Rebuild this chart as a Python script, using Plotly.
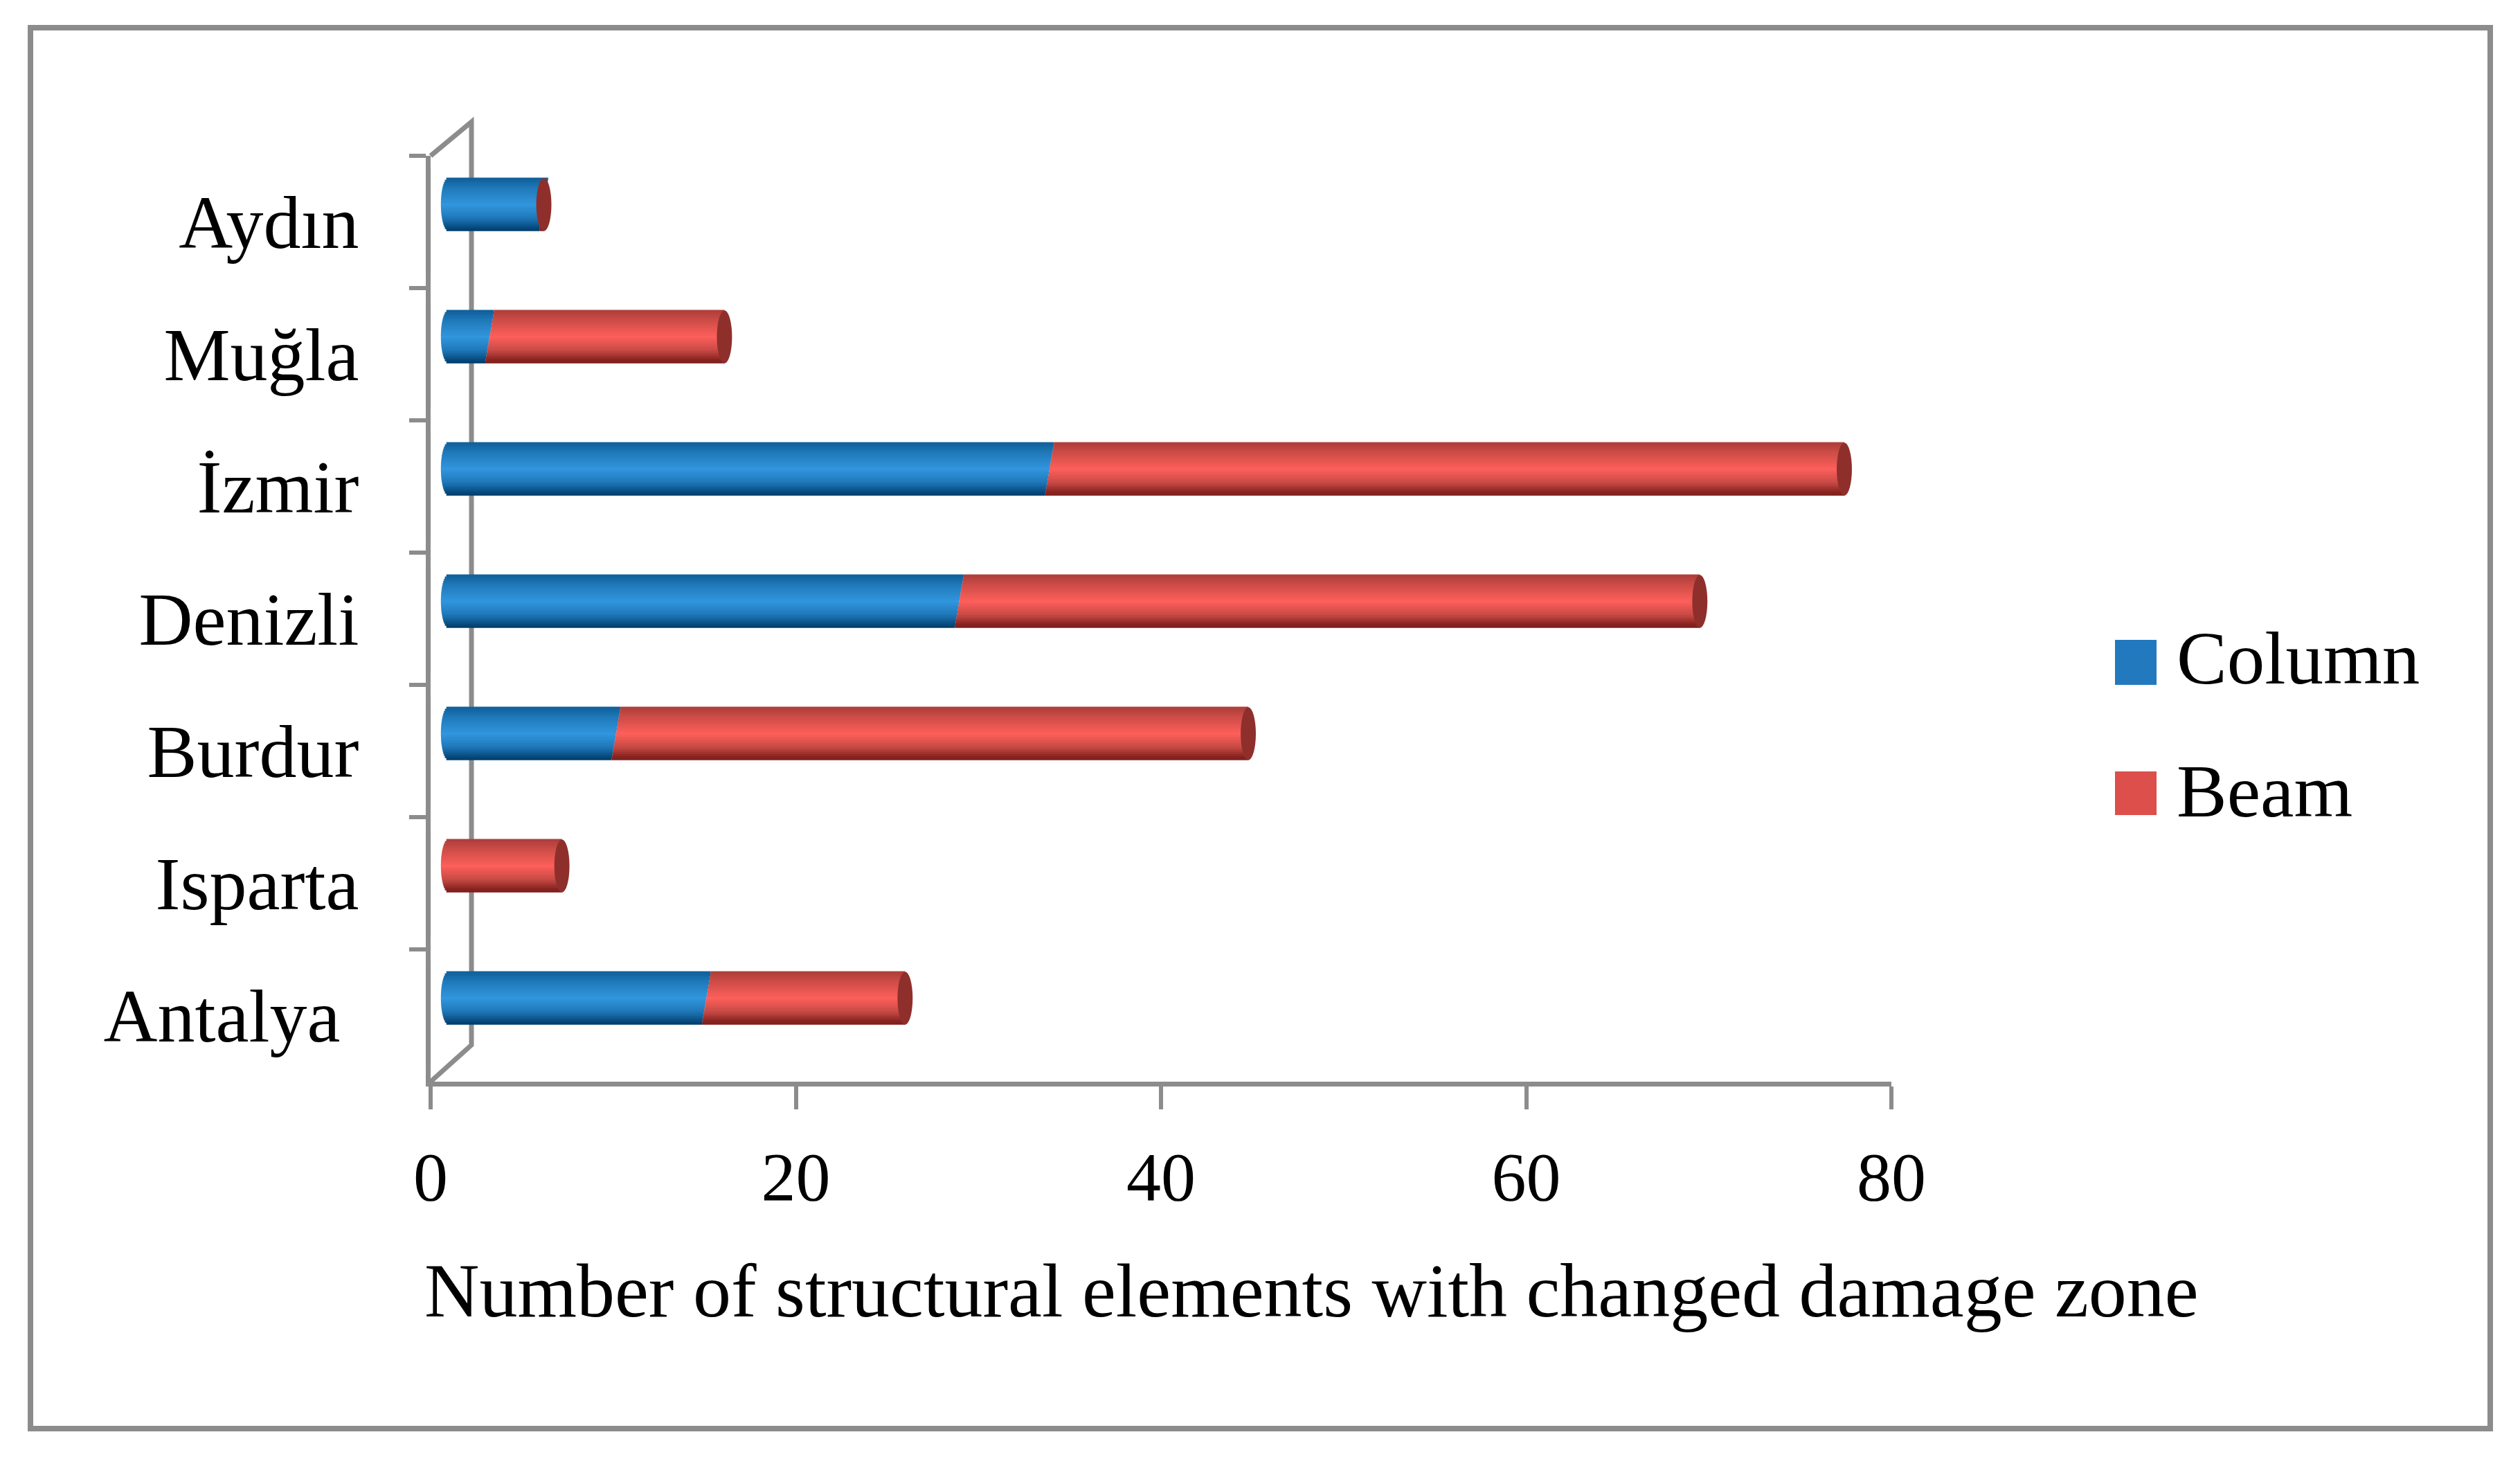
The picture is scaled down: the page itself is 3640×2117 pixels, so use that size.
import math
import plotly.graph_objects as go

categories = ["Antalya\u00a0", "Isparta", "Burdur", "Denizli", "İzmir", "Muğla", "Aydın"]
column_values = [15, 0, 10, 29, 34, 3, 6]
beam_values = [11, 7, 35, 41, 44, 13, 0]
x_ticks = [0, 20, 40, 60, 80]
series_names = ["Column", "Beam"]
x_title = "Number of structural elements with changed damage zone"

W, H = 3640, 2117
FONT = "Liberation Serif"
GREY = "#8c8c8c"


def px(v):
    return v / W


def py(v):
    return 1 - v / H


X0, X1, Y_TOP, Y_BOT = 622, 2732, 225, 1562
BAR_ZERO, BAR_SCALE = 629, 26.09
BAR_LIFT = 25
BAR_W = 0.40
BAR_START = 0.72
N = 25
CAP = 0.42
SLANT = 0.25

BLUE = [(0, "#0f5f98"), (.18, "#1f78b8"), (.5, "#3196de"), (.75, "#1f78b8"), (.94, "#06497c"), (1, "#003a66")]
RED = [(0, "#ad3d39"), (.18, "#cc4c47"), (.5, "#fd5f5a"), (.75, "#c94a46"), (.94, "#86231f"), (1, "#7c1f1d")]


def shade(stops, t):
    for (a, ca), (b, cb) in zip(stops, stops[1:]):
        if t <= b:
            f = (t - a) / (b - a)
            rgb = [round(int(ca[i:i + 2], 16) * (1 - f) + int(cb[i:i + 2], 16) * f) for i in (1, 3, 5)]
            return "rgb(%d,%d,%d)" % tuple(rgb)
    return stops[-1][1]


fig = go.Figure()
idx = list(range(len(categories)))
totals = [c + b for c, b in zip(column_values, beam_values)]

# invisible trace on the main axes so the category axis carries the labels
fig.add_trace(go.Bar(y=categories, x=[0] * len(categories), orientation="h", xaxis="x", yaxis="y",
                     showlegend=False, hoverinfo="skip", marker=dict(color="rgba(0,0,0,0)")))

strip = BAR_W / N
for k in range(N):
    t = (k + 0.5) / N                      # 0 at bottom .. 1 at top of the cylinder
    u = 2 * t - 1
    left = BAR_START - CAP * math.sqrt(max(0, 1 - u * u))
    off = -BAR_W / 2 + k * strip
    seam = SLANT * u
    col_x, col_base, beam_x, beam_base = [], [], [], []
    for c, tot in zip(column_values, totals):
        if c > 0:
            col_base.append(left)
            col_x.append(c + seam - left)
            start = c + seam
        else:
            col_base.append(0)
            col_x.append(0)
            start = left
        beam_base.append(start)
        beam_x.append(max(0, tot - start))
    fig.add_trace(go.Bar(y=idx, x=col_x, base=col_base, width=strip * 1.25, offset=off, orientation="h",
                         xaxis="x2", yaxis="y2", name=series_names[0], showlegend=False,
                         marker=dict(color=shade(BLUE, 1 - t), line=dict(width=0))))
    fig.add_trace(go.Bar(y=idx, x=beam_x, base=beam_base, width=strip * 1.25, offset=off, orientation="h",
                         xaxis="x2", yaxis="y2", name=series_names[1], showlegend=False,
                         marker=dict(color=shade(RED, 1 - t), line=dict(width=0))))

shapes = [
    dict(type="rect", xref="paper", yref="paper", x0=px(44), x1=px(3597), y0=py(40), y1=py(2063),
         line=dict(color=GREY, width=8), layer="below"),
    dict(type="path", xref="paper", yref="paper", layer="below", line=dict(color=GREY, width=7),
         path=f"M{px(X0)},{py(Y_TOP)} L{px(681)},{py(176)} L{px(681)},{py(1509)} L{px(X0)},{py(Y_BOT)}"),
]
for i, tot in zip(idx, totals):
    shapes.append(dict(type="circle", xref="x2", yref="y2", layer="above", x0=tot - CAP, x1=tot + CAP,
                       y0=i - BAR_W / 2, y1=i + BAR_W / 2, fillcolor="#8f2f2c", line=dict(width=0)))
for y0, y1, colour in [(924, 989, "#2279bd"), (1114, 1177, "#dc4f4b")]:
    shapes.append(dict(type="rect", xref="paper", yref="paper", x0=px(3055), x1=px(3115), y0=py(y0), y1=py(y1),
                       fillcolor=colour, line=dict(width=0)))

annotations = [
    dict(text=x_title, x=px(1894), y=py(1864), xref="paper", yref="paper", showarrow=False,
         xanchor="center", yanchor="middle", font=dict(family=FONT, size=110, color="black")),
]
for name, yc in zip(series_names, (950, 1142)):
    annotations.append(dict(text=name, x=px(3142), y=py(yc), xref="paper", yref="paper", showarrow=False,
                            xanchor="left", yanchor="middle", font=dict(family=FONT, size=109, color="black")))

fig.update_layout(
    width=W, height=H, margin=dict(l=0, r=0, t=0, b=0, pad=0), autosize=False,
    paper_bgcolor="white", plot_bgcolor="rgba(0,0,0,0)", barmode="overlay", showlegend=False,
    shapes=shapes, annotations=annotations,
    xaxis=dict(domain=[px(X0), px(X1)], range=[0, 80], tickvals=x_ticks, ticks="outside", ticklen=33, tickwidth=6,
               tickcolor=GREY, showline=True, linecolor=GREY, linewidth=7, showgrid=False, zeroline=False,
               anchor="y", automargin=False, ticklabelstandoff=11,
               tickfont=dict(family=FONT, size=100, color="black")),
    yaxis=dict(domain=[py(Y_BOT), py(Y_TOP)], type="category", categoryorder="array", categoryarray=categories,
               range=[-0.5, 6.5], ticks="outside", ticklen=24, tickwidth=6, tickcolor=GREY, tickson="boundaries",
               showline=True, linecolor=GREY, linewidth=7, showgrid=False, zeroline=False, anchor="x",
               automargin=False, ticklabelstandoff=75, tickfont=dict(family=FONT, size=108, color="black")),
    xaxis2=dict(domain=[px(X0), px(X1)], range=[(X0 - BAR_ZERO) / BAR_SCALE, (X1 - BAR_ZERO) / BAR_SCALE],
                visible=False, anchor="y2", automargin=False),
    yaxis2=dict(domain=[py(Y_BOT) + BAR_LIFT / H, py(Y_TOP) + BAR_LIFT / H], range=[-0.5, 6.5],
                visible=False, anchor="x2", automargin=False),
)

fig.write_html("out.html", config=dict(displayModeBar=False), post_script="document.body.style.margin='0';")
